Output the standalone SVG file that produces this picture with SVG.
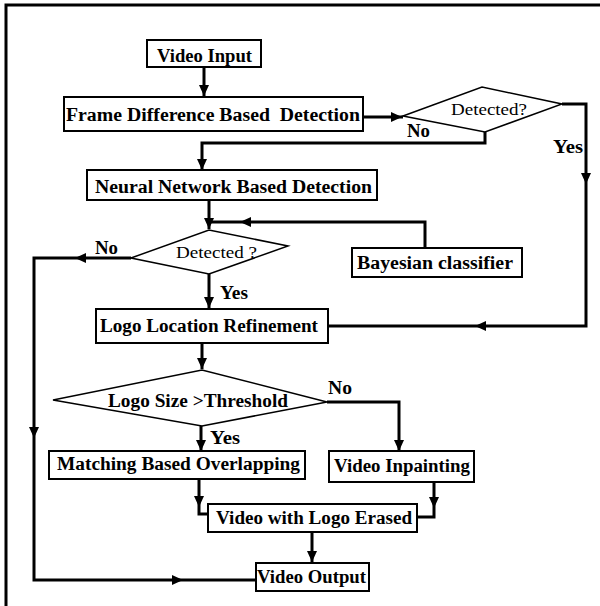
<svg xmlns="http://www.w3.org/2000/svg" xmlns:xlink="http://www.w3.org/1999/xlink" width="600" height="606" viewBox="0 0 600 606">
<style>
.box{fill:#fff;stroke:#000;stroke-width:2}
.dia{fill:#fff;stroke:#000;stroke-width:1.5}
.ln{fill:none;stroke:#000;stroke-width:3}
.t{font-family:"Liberation Serif","Times New Roman",serif;font-weight:bold;font-size:18px;fill:#000}
.n{font-family:"Liberation Serif","Times New Roman",serif;font-weight:normal;font-size:17px;fill:#000}
</style>
<defs>
<path id="ah" d="M0,0 L-11,-5 L-11,5 Z" fill="#000"/>
</defs>
<rect x="0" y="0" width="600" height="606" fill="#fff"/>
<path d="M6,606 V5 H600" fill="none" stroke="#000" stroke-width="3"/>

<g id="connectors">
<path class="ln" d="M204,67 V96"/>
<use xlink:href="#ah" transform="translate(204,96) rotate(90)"/>
<path class="ln" d="M363,117 H403"/>
<use xlink:href="#ah" transform="translate(402,117)"/>
<path class="ln" d="M485,132 V143 H202 V170"/>
<use xlink:href="#ah" transform="translate(202,170) rotate(90)"/>
<path class="ln" d="M562,104 H586 V326 H328"/>
<use xlink:href="#ah" transform="translate(586,184) rotate(90)"/>
<use xlink:href="#ah" transform="translate(475,326) rotate(180)"/>
<path class="ln" d="M209,200 V229"/>
<use xlink:href="#ah" transform="translate(209,229) rotate(90)"/>
<path class="ln" d="M425,248 V222 H209"/>
<use xlink:href="#ah" transform="translate(240,222) rotate(180)"/>
<path class="ln" d="M131,258 H34 V580 H256"/>
<use xlink:href="#ah" transform="translate(75,258) rotate(180)"/>
<use xlink:href="#ah" transform="translate(34,438) rotate(90)"/>
<use xlink:href="#ah" transform="translate(183,580)"/>
<path class="ln" d="M209,274 V308"/>
<use xlink:href="#ah" transform="translate(209,308) rotate(90)"/>
<path class="ln" d="M202,343 V369"/>
<use xlink:href="#ah" transform="translate(202,369) rotate(90)"/>
<path class="ln" d="M327,402 H399 V451"/>
<use xlink:href="#ah" transform="translate(399,451) rotate(90)"/>
<path class="ln" d="M201,426 V451"/>
<use xlink:href="#ah" transform="translate(201,451) rotate(90)"/>
<path class="ln" d="M199,479 V514 H208"/>
<use xlink:href="#ah" transform="translate(199,507) rotate(90)"/>
<path class="ln" d="M434,482 V517 H417"/>
<use xlink:href="#ah" transform="translate(434,508) rotate(90)"/>
<path class="ln" d="M312,532 V562"/>
<use xlink:href="#ah" transform="translate(312,562) rotate(90)"/>
</g>

<g id="video-input">
<rect class="box" x="147" y="40" width="114" height="27"/>
<text class="t" x="157" y="62" textLength="95" lengthAdjust="spacingAndGlyphs">Video Input</text>
</g>
<g id="frame-difference">
<rect class="box" x="64" y="97" width="299" height="34"/>
<text class="t" x="66" y="121" textLength="294" lengthAdjust="spacingAndGlyphs" xml:space="preserve">Frame Difference Based  Detection</text>
</g>
<g id="detected-1">
<polygon class="dia" points="403,116 482,87 562,104 485,132"/>
<text class="n" x="451" y="115" textLength="76" lengthAdjust="spacingAndGlyphs">Detected?</text>
<text class="t" x="407" y="137" textLength="23" lengthAdjust="spacingAndGlyphs">No</text>
<text class="t" x="553" y="153" textLength="30" lengthAdjust="spacingAndGlyphs">Yes</text>
</g>
<g id="neural-network">
<rect class="box" x="87" y="170" width="290" height="30"/>
<text class="t" x="95" y="193" textLength="277" lengthAdjust="spacingAndGlyphs">Neural Network Based Detection</text>
</g>
<g id="bayesian">
<rect class="box" x="352" y="248" width="170" height="29"/>
<text class="t" x="357" y="269" textLength="156" lengthAdjust="spacingAndGlyphs">Bayesian classifier</text>
</g>
<g id="detected-2">
<polygon class="dia" points="131,258 209,230 288,246 209,274"/>
<text class="n" x="176" y="258" textLength="81" lengthAdjust="spacingAndGlyphs">Detected ?</text>
<text class="t" x="95" y="254" textLength="23" lengthAdjust="spacingAndGlyphs">No</text>
<text class="t" x="220" y="299" textLength="28" lengthAdjust="spacingAndGlyphs">Yes</text>
</g>
<g id="logo-location">
<rect class="box" x="96" y="309" width="232" height="34"/>
<text class="t" x="100" y="332" textLength="218" lengthAdjust="spacingAndGlyphs">Logo Location Refinement</text>
</g>
<g id="logo-size">
<polygon class="dia" points="53,400 202,370 327,402 202,426"/>
<text class="t" x="108" y="407" textLength="180" lengthAdjust="spacingAndGlyphs">Logo Size &gt;Threshold</text>
<text class="t" x="328" y="394" textLength="24" lengthAdjust="spacingAndGlyphs">No</text>
<text class="t" x="210" y="444" textLength="30" lengthAdjust="spacingAndGlyphs">Yes</text>
</g>
<g id="matching">
<rect class="box" x="49" y="451" width="256" height="28"/>
<text class="t" x="57" y="470" textLength="243" lengthAdjust="spacingAndGlyphs">Matching Based Overlapping</text>
</g>
<g id="inpainting">
<rect class="box" x="329" y="451" width="145" height="31"/>
<text class="t" x="334" y="472" textLength="136" lengthAdjust="spacingAndGlyphs">Video Inpainting</text>
</g>
<g id="logo-erased">
<rect class="box" x="208" y="504" width="209" height="28"/>
<text class="t" x="216" y="524" textLength="196" lengthAdjust="spacingAndGlyphs">Video with Logo Erased</text>
</g>
<g id="video-output">
<rect class="box" x="256" y="563" width="113" height="28"/>
<text class="t" x="257" y="583" textLength="109" lengthAdjust="spacingAndGlyphs">Video Output</text>
</g>
</svg>
